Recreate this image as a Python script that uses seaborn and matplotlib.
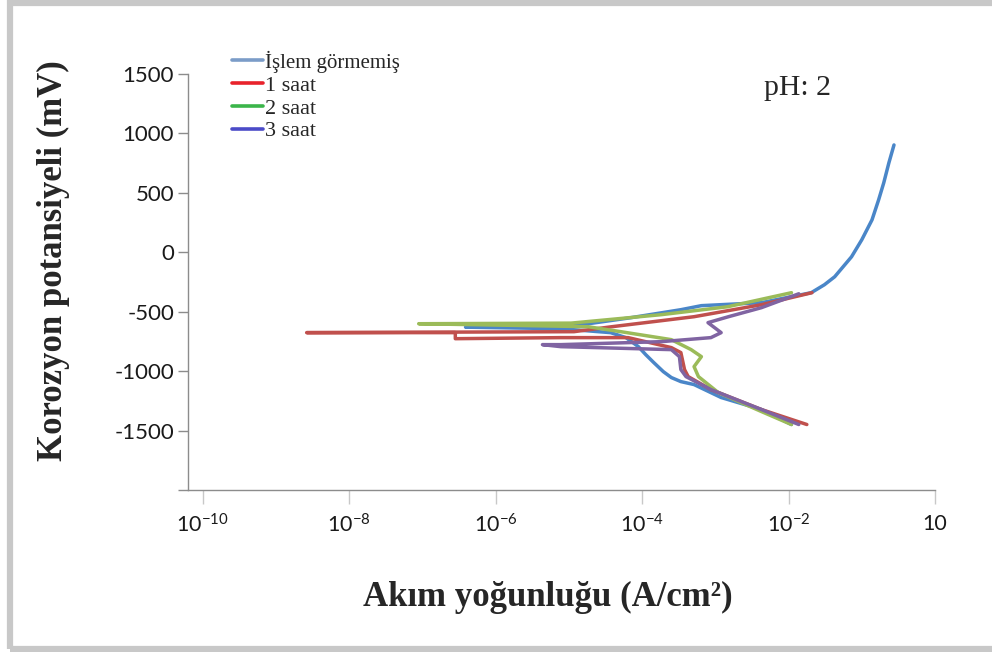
import numpy as np
import pandas as pd
import matplotlib
matplotlib.use("Agg")
import matplotlib.pyplot as plt
from matplotlib.lines import Line2D
from matplotlib.patches import Rectangle
import seaborn as sns

# Potentiodynamic polarization scans: log10 current density (A/cm2) and potential (mV),
# ordered along the scan from the cathodic end to the anodic end.
untreated_logi = [-1.96, -2.37, -2.92, -3.29, -3.47, -3.60, -3.71, -3.84, -3.95, -4.05, -4.22,
                  -4.43, -5.11, -6.41,
                  -4.97, -4.15, -3.47, -3.19, -2.37, -1.69, -1.51, -1.37, -1.14, -1.00,
                  -0.86, -0.77, -0.70, -0.63, -0.56]
untreated_mv = [-1449, -1323, -1222, -1113, -1088, -1054, -1004, -928, -861, -794, -718,
                -676, -643, -630,
                -622, -550, -483, -449, -424, -340, -273, -206, -38, 105,
                273, 441, 584, 752, 903]

h1_logi = [-1.75, -2.37, -3.06, -3.37, -3.42, -3.47, -3.60, -4.19, -5.11, -6.55, -6.55,
           -8.58, -4.93, -4.41, -3.29, -2.37, -1.68]
h1_mv = [-1449, -1323, -1155, -1046, -987, -844, -802, -718, -718, -727, -676,
         -676, -668, -626, -542, -441, -340]

h2_logi = [-1.96, -2.37, -2.96, -3.23, -3.29, -3.19, -3.33, -3.60, -4.29, -4.74, -7.05,
           -4.97, -3.74, -2.83, -1.96]
h2_mv = [-1449, -1340, -1180, -1046, -962, -878, -819, -735, -668, -626, -601,
         -596, -525, -458, -340]

h3_logi = [-1.86, -2.37, -3.06, -3.40, -3.47, -3.49, -3.60, -5.11, -5.36,
           -5.11, -3.74, -3.06, -2.92, -3.10, -2.82, -2.37, -1.86]
h3_mv = [-1449, -1323, -1155, -1046, -987, -878, -819, -794, -777,
         -777, -752, -718, -676, -592, -542, -466, -349]

series_names = ["İşlem görmemiş", "1 saat", "2 saat", "3 saat"]
line_colors = ["#4A86C8", "#C0504D", "#9BBB59", "#8064A2"]
legend_colors = ["#7B9CC8", "#E8222B", "#3BB54A", "#4B4BC8"]

y_ticks = [-2000, -1500, -1000, -500, 0, 500, 1000, 1500]
x_tick_exp = [-10, -8, -6, -4, -2, 0]
x_tick_labels = [r"$\mathregular{10^{-10}}$", r"$\mathregular{10^{-8}}$", r"$\mathregular{10^{-6}}$",
                 r"$\mathregular{10^{-4}}$", r"$\mathregular{10^{-2}}$", "10"]

frames = []
for name, lg, mv in zip(series_names,
                        [untreated_logi, h1_logi, h2_logi, h3_logi],
                        [untreated_mv, h1_mv, h2_mv, h3_mv]):
    frames.append(pd.DataFrame({"series": name,
                                "current": np.power(10.0, lg),
                                "potential": mv,
                                "step": np.arange(len(lg))}))
df = pd.concat(frames, ignore_index=True)

sns.set_style("white")
plt.rcParams["mathtext.fontset"] = "custom"
plt.rcParams["mathtext.rm"] = "Lato"
plt.rcParams["mathtext.it"] = "Lato:italic"
plt.rcParams["mathtext.bf"] = "Lato:bold"

fig = plt.figure(figsize=(9.92, 6.52), dpi=100)
ax = fig.add_axes([188 / 992, 1 - 490 / 652, (935 - 188) / 992, (490 - 74) / 652])

sns.lineplot(data=df, x="current", y="potential", hue="series", hue_order=series_names,
             palette=line_colors, sort=False, estimator=None, units="series",
             linewidth=2.5, legend=False, ax=ax)
for ln in ax.get_lines():
    ln.set_solid_joinstyle("round")
    ln.set_solid_capstyle("round")

ax.set_xscale("log")
ax.set_xlim(10 ** -10.2, 10 ** 0.0)
ax.set_ylim(-2000, 1500)
ax.set_xticks([10.0 ** e for e in x_tick_exp])
ax.set_xticklabels(x_tick_labels)
ax.xaxis.set_minor_locator(matplotlib.ticker.NullLocator())
ax.set_yticks(y_ticks)
ax.set_yticklabels(["" if v == -2000 else str(v) for v in y_ticks])

for side in ["top", "right"]:
    ax.spines[side].set_visible(False)
for side in ["left", "bottom"]:
    ax.spines[side].set_color("#8C8C8C")
    ax.spines[side].set_linewidth(1.0)

ax.tick_params(axis="y", direction="out", length=7, width=1, color="#8C8C8C",
               labelsize=16, labelcolor="#1A1A1A", pad=3, left=True)
ax.tick_params(axis="x", direction="out", length=10, width=1, color="#C8C8C8",
               labelsize=15.5, labelcolor="#1A1A1A", pad=7, bottom=True)
for lab in ax.get_xticklabels() + ax.get_yticklabels():
    lab.set_fontfamily("Lato")

ax.set_xlabel("")
ax.set_ylabel("")

serif = "Liberation Serif"
fig.text(548 / 992, 1 - 597 / 652, "Akım yoğunluğu (A/cm²)", ha="center", va="center",
         fontsize=25, fontweight="bold", family=serif)
fig.text(53 / 992, 1 - 261 / 652, "Korozyon potansiyeli (mV)", ha="center", va="center",
         rotation=90, fontsize=25, fontweight="bold", family=serif)
fig.text(798 / 992, 1 - 88 / 652, "pH: 2", ha="center", va="center",
         fontsize=21.5, family=serif)

handles = [Line2D([0], [0], color=c, lw=2.6) for c in legend_colors]
leg = fig.legend(handles, series_names, loc="upper left", bbox_to_anchor=(232 / 992, 1 - 51 / 652),
                 frameon=False, handlelength=1.4, handletextpad=0.1, labelspacing=0.1,
                 borderpad=0, borderaxespad=0, prop={"family": serif, "size": 16})
leg.get_texts()[0].set_fontsize(15)

fig.patches.append(Rectangle((10 / 992, 3 / 652), 1.2, 646 / 652, transform=fig.transFigure,
                             fill=False, edgecolor="#C8C8C8", linewidth=4.5, zorder=0))

fig.savefig("out.png", dpi=100)
